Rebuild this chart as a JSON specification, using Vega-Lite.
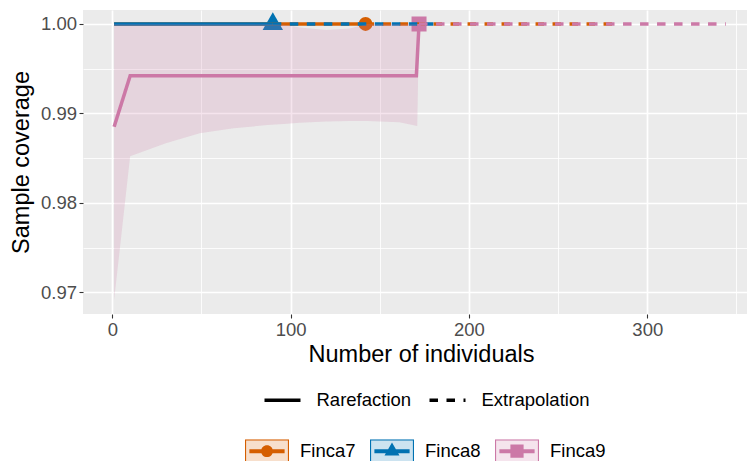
{
  "$schema": "https://vega.github.io/schema/vega-lite/v6.json",
  "width": 664,
  "height": 304,
  "autosize": {"type": "none"},
  "padding": {"left": 83, "top": 10, "right": 0, "bottom": 147},
  "background": "white",
  "config": {
    "font": "Liberation Sans",
    "view": {"fill": "#EBEBEB", "stroke": null},
    "axis": {
      "labelFont": "Liberation Sans",
      "labelFontSize": 18.5,
      "labelColor": "#4D4D4D",
      "labelPadding": 2.5,
      "tickColor": "#333333",
      "tickSize": 4,
      "tickWidth": 1.1,
      "domain": false,
      "gridColor": "#FFFFFF",
      "gridOpacity": 1,
      "titleFont": "Liberation Sans",
      "titleFontSize": 23.5,
      "titleFontWeight": "normal",
      "titleColor": "#000000"
    },
    "legend": {
      "labelFont": "Liberation Sans",
      "labelFontSize": 18.5,
      "labelColor": "#000000",
      "padding": 0
    }
  },
  "datasets": {
    "lines": [
      {"site": "Finca7", "x": 1, "y": 1.0, "method": "Rarefaction"},
      {"site": "Finca7", "x": 142, "y": 1.0, "method": "Rarefaction"},
      {"site": "Finca7", "x": 142, "y": 1.0, "method": "Extrapolation"},
      {"site": "Finca7", "x": 284, "y": 1.0, "method": "Extrapolation"},
      {"site": "Finca8", "x": 1, "y": 1.0, "method": "Rarefaction"},
      {"site": "Finca8", "x": 90, "y": 1.0, "method": "Rarefaction"},
      {"site": "Finca8", "x": 90, "y": 1.0, "method": "Extrapolation"},
      {"site": "Finca8", "x": 180, "y": 1.0, "method": "Extrapolation"},
      {"site": "Finca9", "x": 1, "y": 0.9885, "method": "Rarefaction"},
      {"site": "Finca9", "x": 10, "y": 0.9942, "method": "Rarefaction"},
      {"site": "Finca9", "x": 170.5, "y": 0.9942, "method": "Rarefaction"},
      {"site": "Finca9", "x": 172, "y": 1.0, "method": "Rarefaction"},
      {"site": "Finca9", "x": 172, "y": 1.0, "method": "Extrapolation"},
      {"site": "Finca9", "x": 344, "y": 1.0, "method": "Extrapolation"}
    ],
    "ribbon": [
      {"site": "Finca7", "x": 1, "lo": 1.0, "hi": 1.0},
      {"site": "Finca7", "x": 284, "lo": 1.0, "hi": 1.0},
      {"site": "Finca8", "x": 1, "lo": 1.0, "hi": 1.0},
      {"site": "Finca8", "x": 180, "lo": 1.0, "hi": 1.0},
      {"site": "Finca9", "x": 1, "lo": 0.9691, "hi": 1.0},
      {"site": "Finca9", "x": 10, "lo": 0.9852, "hi": 1.0},
      {"site": "Finca9", "x": 30, "lo": 0.98666, "hi": 1.0},
      {"site": "Finca9", "x": 49, "lo": 0.98777, "hi": 1.0},
      {"site": "Finca9", "x": 68, "lo": 0.98833, "hi": 1.0},
      {"site": "Finca9", "x": 87, "lo": 0.9887, "hi": 1.0},
      {"site": "Finca9", "x": 96, "lo": 0.98883, "hi": 0.99995},
      {"site": "Finca9", "x": 105, "lo": 0.98896, "hi": 0.9996},
      {"site": "Finca9", "x": 120, "lo": 0.98909, "hi": 0.99933},
      {"site": "Finca9", "x": 133, "lo": 0.98914, "hi": 0.9995},
      {"site": "Finca9", "x": 143, "lo": 0.98915, "hi": 1.0},
      {"site": "Finca9", "x": 161, "lo": 0.989, "hi": 1.0},
      {"site": "Finca9", "x": 171, "lo": 0.98859, "hi": 1.0},
      {"site": "Finca9", "x": 172, "lo": 1.0, "hi": 1.0},
      {"site": "Finca9", "x": 344, "lo": 1.0, "hi": 1.0}
    ],
    "obs": [
      {"site": "Finca7", "x": 142, "y": 1.0},
      {"site": "Finca8", "x": 90, "y": 1.0},
      {"site": "Finca9", "x": 172, "y": 1.0}
    ]
  },
  "resolve": {"axis": {"x": "independent", "y": "independent"}},
  "layer": [
    {
      "data": {"name": "obs"},
      "transform": [{"filter": "datum.site === 'Finca7'"}],
      "mark": {"type": "point", "shape": "circle", "filled": true, "opacity": 1, "size": 190, "color": "#D55E00"},
      "encoding": {
        "x": {"field": "x", "type": "quantitative", "scale": {"domain": [-16.43, 355.9], "nice": false, "zero": false},
          "axis": {"orient": "bottom", "values": [0, 100, 200, 300], "grid": true, "gridWidth": 1.7, "title": "Number of individuals", "titleX": 338, "titleY": 47.5, "titleBaseline": "alphabetic", "titleAlign": "center"}},
        "y": {"field": "y", "type": "quantitative", "scale": {"domain": [0.967572, 1.001565], "nice": false, "zero": false},
          "axis": {"orient": "left", "values": [0.97, 0.98, 0.99, 1.0], "format": ".2f", "grid": true, "gridWidth": 1.7, "title": "Sample coverage", "titleX": -54.3, "titleBaseline": "alphabetic", "titleAngle": 270}}
      }
    },
    {
      "data": {"name": "obs"},
      "transform": [{"filter": "datum.site === 'Finca8'"}],
      "mark": {"type": "point", "shape": "M0,-1.18L1.02,0.59L-1.02,0.59Z", "filled": true, "opacity": 1, "size": 400, "color": "#0072B2"},
      "encoding": {
        "x": {"field": "x", "type": "quantitative", "axis": null},
        "y": {"field": "y", "type": "quantitative", "axis": null}
      }
    },
    {
      "data": {"name": "obs"},
      "transform": [{"filter": "datum.site === 'Finca9'"}],
      "mark": {"type": "point", "shape": "square", "filled": true, "opacity": 1, "size": 225, "color": "#CC79A7"},
      "encoding": {
        "x": {"field": "x", "type": "quantitative", "axis": null},
        "y": {"field": "y", "type": "quantitative", "axis": null}
      }
    },
    {
      "data": {"name": "lines"},
      "transform": [{"filter": "datum.site === 'Finca7'"}],
      "mark": {"type": "line", "color": "#D55E00", "strokeWidth": 3.5},
      "encoding": {
        "x": {"field": "x", "type": "quantitative", "axis": null},
        "y": {"field": "y", "type": "quantitative", "axis": null},
        "strokeDash": {"field": "method", "type": "nominal",
          "scale": {"domain": ["Rarefaction", "Extrapolation"], "range": [[1, 0], [8.5, 8.5]]},
          "legend": {"title": null, "orient": "none", "legendX": 179.5, "legendY": 370, "direction": "horizontal", "symbolType": "stroke", "symbolSize": 1296, "symbolStrokeWidth": 3.5, "symbolStrokeColor": "#000000", "labelOffset": 14, "columnPadding": 11}}
      }
    },
    {
      "data": {"name": "lines"},
      "transform": [{"filter": "datum.site === 'Finca8'"}],
      "mark": {"type": "line", "color": "#0072B2", "strokeWidth": 3.5},
      "encoding": {
        "x": {"field": "x", "type": "quantitative", "axis": null},
        "y": {"field": "y", "type": "quantitative", "axis": null},
        "strokeDash": {"field": "method", "type": "nominal",
          "scale": {"domain": ["Rarefaction", "Extrapolation"], "range": [[1, 0], [8.5, 8.5]]},
          "legend": {"title": null, "orient": "none", "legendX": 179.5, "legendY": 370, "direction": "horizontal", "symbolType": "stroke", "symbolSize": 1296, "symbolStrokeWidth": 3.5, "symbolStrokeColor": "#000000", "labelOffset": 14, "columnPadding": 11}}
      }
    },
    {
      "data": {"name": "lines"},
      "transform": [{"filter": "datum.site === 'Finca9'"}],
      "mark": {"type": "line", "color": "#CC79A7", "strokeWidth": 3.5},
      "encoding": {
        "x": {"field": "x", "type": "quantitative", "axis": null},
        "y": {"field": "y", "type": "quantitative", "axis": null},
        "strokeDash": {"field": "method", "type": "nominal",
          "scale": {"domain": ["Rarefaction", "Extrapolation"], "range": [[1, 0], [8.5, 8.5]]},
          "legend": {"title": null, "orient": "none", "legendX": 179.5, "legendY": 370, "direction": "horizontal", "symbolType": "stroke", "symbolSize": 1296, "symbolStrokeWidth": 3.5, "symbolStrokeColor": "#000000", "labelOffset": 14, "columnPadding": 11}}
      }
    },
    {
      "data": {"name": "ribbon"},
      "mark": {"type": "area", "fillOpacity": 0.2, "strokeWidth": 0},
      "encoding": {
        "x": {"field": "x", "type": "quantitative",
          "axis": {"orient": "bottom", "values": [50, 150, 250, 350], "grid": true, "gridWidth": 0.85, "labels": false, "ticks": false, "domain": false, "title": null}},
        "y": {"field": "lo", "type": "quantitative",
          "axis": {"orient": "left", "values": [0.975, 0.985, 0.995], "grid": true, "gridWidth": 0.85, "labels": false, "ticks": false, "domain": false, "title": null}},
        "y2": {"field": "hi"},
        "fill": {"field": "site", "type": "nominal",
          "scale": {"range": ["#D55E00", "#0072B2", "#CC79A7"]},
          "legend": {"title": null, "orient": "none", "legendX": 162, "legendY": 419, "direction": "horizontal", "symbolType": "M-1,-0.53H1V0.53H-1Z", "symbolSize": 1936, "symbolStrokeWidth": 0, "symbolOpacity": 0.2, "labelOpacity": 0, "labelOffset": 11, "columnPadding": 14}}
      }
    },
    {
      "data": {"name": "obs"},
      "transform": [{"filter": "datum.x < 0"}],
      "mark": {"type": "point", "filled": true, "opacity": 1, "strokeWidth": 0},
      "encoding": {
        "x": {"field": "x", "type": "quantitative", "axis": null},
        "y": {"field": "y", "type": "quantitative", "axis": null},
        "color": {"field": "site", "type": "nominal",
          "scale": {"domain": ["Finca7", "Finca8", "Finca9"], "range": ["#D55E00", "#0072B2", "#CC79A7"]},
          "legend": {"title": null, "orient": "none", "legendX": 162, "legendY": 419, "direction": "horizontal", "symbolSize": 1936, "symbolStrokeWidth": 0, "labelOffset": 11, "columnPadding": 14}},
        "shape": {"field": "site", "type": "nominal",
          "scale": {"domain": ["Finca7", "Finca8", "Finca9"], "range": [
            "M-1,-0.53H1V0.53H-1Z M-0.95,-0.48V0.48H0.95V-0.48Z M-0.8,-0.09H0.8V0.09H-0.8Z M-0.27,0A0.27,0.27 0 1,1 0.27,0A0.27,0.27 0 1,1 -0.27,0Z",
            "M-1,-0.53H1V0.53H-1Z M-0.95,-0.48V0.48H0.95V-0.48Z M-0.8,-0.09H0.8V0.09H-0.8Z M0,-0.39L0.34,0.2L-0.34,0.2Z",
            "M-1,-0.53H1V0.53H-1Z M-0.95,-0.48V0.48H0.95V-0.48Z M-0.8,-0.09H0.8V0.09H-0.8Z M-0.3,-0.3H0.3V0.3H-0.3Z"
          ]},
          "legend": {"title": null, "orient": "none", "legendX": 162, "legendY": 419, "direction": "horizontal", "symbolSize": 1936, "symbolStrokeWidth": 0, "labelOffset": 11, "columnPadding": 14}}
      }
    }
  ]
}
